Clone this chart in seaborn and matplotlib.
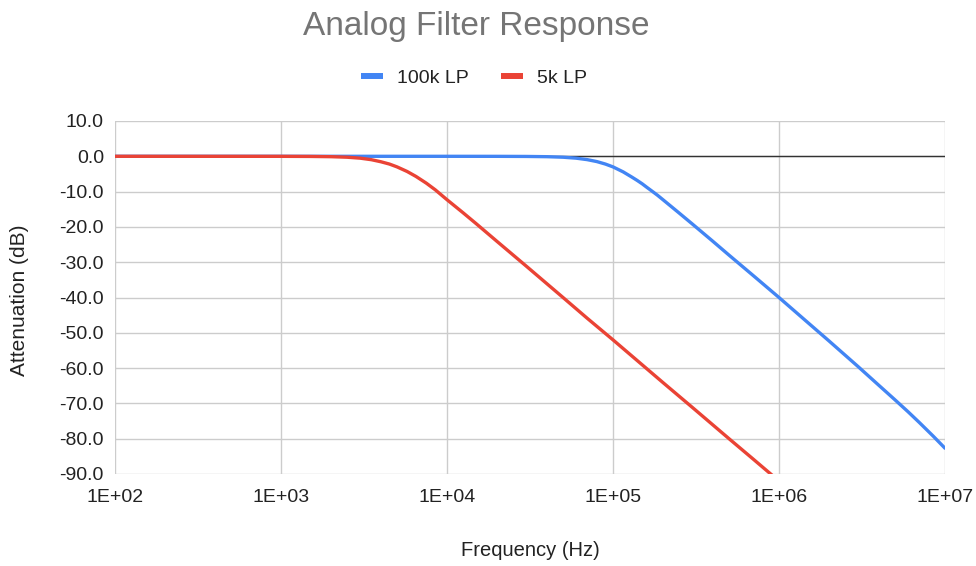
import numpy as np
import pandas as pd
import matplotlib
matplotlib.use("Agg")
import matplotlib.pyplot as plt
from matplotlib.lines import Line2D
from matplotlib.ticker import FixedLocator, FixedFormatter, NullLocator
import seaborn as sns

# ---- data ----
freq_100k = [1e2, 1e3, 1e4, 2e4, 3e4, 4e4, 5e4, 6e4, 7e4, 8e4, 9e4, 1e5,
             1.15e5, 1.3e5, 1.4e5, 1.5e5, 1.6e5, 1.75e5, 1.85e5, 2e5, 2.5e5,
             3e5, 4e5, 5e5, 7e5, 1e6, 1.5e6, 2e6, 3e6, 4e6, 5e6, 6e6, 7e6,
             8.5e6, 1e7]
db_100k = [0.0, 0.0, 0.0, -0.01, -0.04, -0.11, -0.26, -0.53, -0.95, -1.5,
           -2.2, -3.0, -4.4, -5.9, -6.85, -7.8, -8.8, -10.15, -11.0, -12.3,
           -16.05, -19.15, -24.1, -28.0, -33.8, -40.0, -47.2, -52.3, -59.6,
           -64.9, -69.0, -72.4, -75.4, -79.3, -82.7]

freq_5k = [1e2, 1e3, 1.5e3, 2e3, 2.5e3, 3e3, 3.5e3, 4e3, 4.5e3, 5e3, 5.75e3,
           6.5e3, 7.5e3, 8.5e3, 1e4, 1.25e4, 1.5e4, 2e4, 3e4, 5e4, 7e4, 1e5,
           2e5, 3e5, 5e5, 7e5, 1e6]
db_5k = [0.0, -0.01, -0.04, -0.11, -0.26, -0.53, -0.96, -1.55, -2.2, -3.0,
         -4.3, -5.7, -7.6, -9.5, -12.3, -16.0, -19.1, -24.1, -31.1, -40.0,
         -45.9, -52.0, -64.1, -71.1, -80.0, -85.8, -92.0]

series_names = ["100k LP", "5k LP"]
series_colors = ["#4285F4", "#EA4335"]

x_ticks = [1e2, 1e3, 1e4, 1e5, 1e6, 1e7]
x_tick_labels = ["1E+02", "1E+03", "1E+04", "1E+05", "1E+06", "1E+07"]
y_ticks = [10, 0, -10, -20, -30, -40, -50, -60, -70, -80, -90]
y_tick_labels = ["10.0", "0.0", "-10.0", "-20.0", "-30.0", "-40.0", "-50.0",
                 "-60.0", "-70.0", "-80.0", "-90.0"]

df = pd.concat([
    pd.DataFrame({"Frequency (Hz)": freq_100k, "Attenuation (dB)": db_100k,
                  "Series": series_names[0]}),
    pd.DataFrame({"Frequency (Hz)": freq_5k, "Attenuation (dB)": db_5k,
                  "Series": series_names[1]}),
], ignore_index=True)

sns.set_theme(style="white")
plt.rcParams["font.family"] = ["Liberation Sans", "DejaVu Sans"]

W, H = 976, 566
fig = plt.figure(figsize=(W / 100, H / 100), dpi=100)
ax = fig.add_axes([115 / W, 1 - 474 / H, (945 - 115) / W, (474 - 121) / H])

ax.axhline(0, color="#333333", lw=1.0, zorder=1)
sns.lineplot(data=df, x="Frequency (Hz)", y="Attenuation (dB)", hue="Series",
             hue_order=series_names, palette=series_colors, linewidth=2.4,
             legend=False, ax=ax, zorder=3, sort=True)

ax.set_xscale("log")
ax.set_xlim(1e2, 1e7)
ax.set_ylim(-90, 10)
ax.xaxis.set_major_locator(FixedLocator(x_ticks))
ax.xaxis.set_major_formatter(FixedFormatter(x_tick_labels))
ax.xaxis.set_minor_locator(NullLocator())
ax.yaxis.set_major_locator(FixedLocator(y_ticks))
ax.yaxis.set_major_formatter(FixedFormatter(y_tick_labels))

ax.grid(True, color="#cccccc", lw=1.0, zorder=0)
ax.set_axisbelow(True)
for s in ax.spines.values():
    s.set_visible(False)
ax.tick_params(axis="both", length=0, labelsize=14, labelcolor="#222222")
ax.tick_params(axis="x", pad=11)
ax.tick_params(axis="y", pad=8)
ax.set_xlabel("")
ax.set_ylabel("")

fig.text(530 / W, 1 - 550 / H, "Frequency (Hz)", ha="center", va="center",
         fontsize=14.5, color="#222222")
fig.text(20 / W, 1 - 300 / H, "Attenuation (dB)", ha="center", va="center",
         rotation=90, fontsize=15, color="#222222")
fig.text(476 / W, 1 - 27 / H, "Analog Filter Response", ha="center",
         va="center", fontsize=24, color="#757575")

handles = [Line2D([0], [0], color=c, lw=4.3, solid_capstyle="butt")
           for c in series_colors]
fig.legend(handles, series_names, loc="center", bbox_to_anchor=(474 / W, 1 - 78 / H),
           ncol=2, frameon=False, fontsize=14, handlelength=1.15,
           handletextpad=0.7, columnspacing=1.65, labelcolor="#222222")

fig.savefig("out.png", dpi=100)
